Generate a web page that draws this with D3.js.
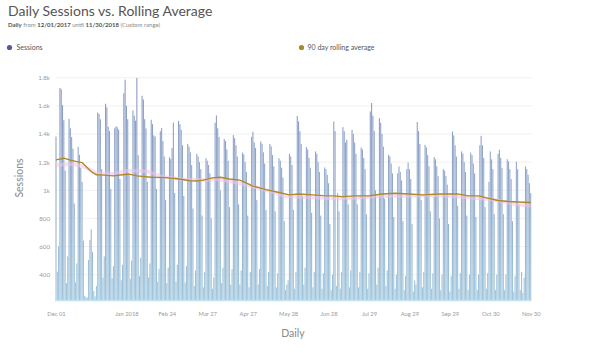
<!DOCTYPE html>
<html><head><meta charset="utf-8">
<script src="https://cdn.jsdelivr.net/npm/d3@7"></script>
<style>
html,body{margin:0;padding:0;background:#fff;}
svg{display:block;font-family:Lato, "Open Sans", sans-serif;}
</style></head>
<body>
<svg id="chart" width="600" height="353"></svg>
<script>
// ---- data ----
const startDate = "2017-12-01";
// daily sessions, 12/01/2017 .. 11/30/2018 (Fri Dec 1 first, then weeks Mon..Sun)
const sessions = [
 1382,421,600,
 1727,1718,1605,1498,1140,340,530,
 1508,1440,1378,1296,905,345,480,
 1309,1252,1160,1060,642,250,240,
 238,505,648,722,560,285,245,
 320,1553,1542,1505,1150,380,530,
 1615,1590,1452,1420,1010,375,460,
 1440,1455,1448,1430,1080,360,470,
 1690,1786,1600,1505,1120,370,500,
 1567,1530,1495,1798,1250,390,520,
 1672,1645,1505,1440,1060,380,480,
 1501,1470,1390,1382,1010,350,440,
 1420,1442,1350,1240,930,340,450,
 1235,1222,1300,1482,980,350,470,
 1494,1470,1430,1320,960,345,460,
 1330,1310,1270,1180,870,320,430,
 1259,1240,1200,1150,820,310,420,
 1228,1210,1180,1120,800,300,380,
 1480,1532,1440,1380,1000,340,450,
 1364,1350,1290,1210,880,330,440,
 1392,1370,1320,1240,900,330,430,
 1268,1255,1200,1130,820,310,420,
 1380,1416,1340,1300,930,330,440,
 1347,1330,1270,1190,860,320,420,
 1330,1312,1250,1170,850,310,410,
 1228,1210,1160,1090,780,290,330,
 360,1259,1240,1180,860,300,420,
 1529,1490,1420,1330,960,330,450,
 1307,1290,1230,1160,840,310,420,
 1276,1260,1200,1130,820,300,410,
 1162,1150,1110,1050,760,290,400,
 1489,1420,320,980,850,300,420,
 1449,1420,1340,1360,900,310,430,
 1430,1400,1340,1260,900,310,420,
 1304,1290,1230,1150,830,300,410,
 1560,1620,1530,1420,1000,330,450,
 1513,1480,1400,1310,940,320,430,
 1252,1240,1190,1120,810,300,400,
 1120,1169,1130,1070,780,290,390,
 1150,1197,1150,1080,760,280,360,
 330,1485,1420,1330,930,310,420,
 1323,1305,1250,1170,850,300,410,
 1236,1220,1170,1100,800,290,400,
 1150,1140,1100,1040,760,280,390,
 1418,1390,1320,1240,890,300,410,
 1276,1260,1200,1130,820,290,400,
 1268,1250,1190,1120,810,290,400,
 1320,1387,1320,1230,880,300,410,
 1060,1276,1220,1150,830,290,400,
 1260,1288,1230,1160,830,290,400,
 1221,1205,1150,1080,780,280,390,
 1204,1150,900,290,420,270,380,
 1169,1150,1110,1050,980
];
// 90 day rolling average, read at day offsets from start
const avgDays   = [0,6,11,16,20,23,27,31,37,44,51,56,62,73,84,93,103,108,113,120,126,133,141,147,151,161,171,179,186,197,205,212,220,229,240,250,260,271,281,294,301,308,316,324,331,339,347,354,364];
const avgValues = [1216,1228,1214,1204,1197,1169,1133,1110,1108,1102,1110,1115,1102,1093,1090,1082,1068,1066,1072,1088,1093,1080,1072,1048,1030,1005,984,967,974,967,962,960,955,960,960,974,979,974,967,974,974,974,960,960,944,927,920,917,913];
// faint pink companion line
const pinkDays   = [0,12,19,25,32,45,55,70,80,95,110,125,135,150,165,175,190,205,215,230,245,260,275,290,305,320,335,345,355,364];
const pinkValues = [1180,1185,1175,1150,1120,1120,1140,1135,1100,1080,1075,1075,1060,1030,990,960,950,945,940,945,955,960,960,965,955,945,935,915,895,890];
const yTicks = [400,600,800,1000,1200,1400,1600,1800];
const yTickLabels = ["400","600","800","1k","1.2k","1.4k","1.6k","1.8k"];
const xTickDates = ["2017-12-01","2018-01-24","2018-02-24","2018-03-27","2018-04-27","2018-05-28","2018-06-28","2018-07-29","2018-08-29","2018-09-29","2018-10-30","2018-11-30"];
const xTickLabels = ["Dec 01","Jan 2018","Feb 24","Mar 27","Apr 27","May 28","Jun 28","Jul 29","Aug 29","Sep 29","Oct 30","Nov 30"];

// ---- drawing ----
(function () {
const svg = d3.select("#chart");
const parse = d3.utcParse("%Y-%m-%d");
const d0 = parse(startDate);
const dayDate = i => d3.utcDay.offset(d0, i);
const pL = 56, pR = 530.7, pT = 70, pB = 300;
const x = d3.scaleUtc().domain([d0, dayDate(sessions.length - 1)]).range([pL, pR]);
const y = d3.scaleLinear().domain([220, 1855]).range([pB, pT]);
const step = x(dayDate(1)) - x(d0);

// title
svg.append("text").attr("x", 8).attr("y", 16).attr("font-size", 14).attr("fill", "#555").text("Daily Sessions vs. Rolling Average");
const sub = svg.append("text").attr("x", 8).attr("y", 26.5).attr("font-size", 6).attr("fill", "#888");
sub.append("tspan").attr("font-weight", "bold").attr("fill", "#555").text("Daily");
sub.append("tspan").text(" from ");
sub.append("tspan").attr("font-weight", "bold").attr("fill", "#555").text("12/01/2017");
sub.append("tspan").text(" until ");
sub.append("tspan").attr("font-weight", "bold").attr("fill", "#555").text("11/30/2018");
sub.append("tspan").text(" (Custom range)");

// legend
svg.append("circle").attr("cx", 9.5).attr("cy", 47.5).attr("r", 2.6).attr("fill", "#4d5c9e");
svg.append("text").attr("x", 16.5).attr("y", 50).attr("font-size", 7).attr("fill", "#555").text("Sessions");
svg.append("circle").attr("cx", 301.5).attr("cy", 47.5).attr("r", 2.6).attr("fill", "#a68a22");
svg.append("text").attr("x", 307.5).attr("y", 50).attr("font-size", 7).attr("fill", "#555").text("90 day rolling average");

// grid
svg.append("g").selectAll("line").data(yTicks).join("line")
  .attr("x1", pL).attr("x2", pR + 1)
  .attr("y1", d => y(d)).attr("y2", d => y(d))
  .attr("stroke", "#ececec").attr("stroke-width", 0.8);

// y axis labels
const yAxis = d3.axisLeft(y).tickValues(yTicks).tickFormat((d, i) => yTickLabels[i]).tickSize(0).tickPadding(0);
const gy = svg.append("g").attr("transform", `translate(${pL - 6},0)`).call(yAxis);
gy.select(".domain").remove();
gy.selectAll("text").attr("font-size", 6.2).attr("fill", "#9a9a9a").attr("font-family", "Lato, sans-serif");

// gradient for bars
const defs = svg.append("defs");
const grad = defs.append("linearGradient").attr("id", "barGrad").attr("gradientUnits", "userSpaceOnUse")
  .attr("x1", 0).attr("x2", 0).attr("y1", pT).attr("y2", pB);
grad.append("stop").attr("offset", "0%").attr("stop-color", "#8795c4");
grad.append("stop").attr("offset", "55%").attr("stop-color", "#92abcc");
grad.append("stop").attr("offset", "100%").attr("stop-color", "#9fc6dc");

// bars
const bw = step * 0.82;
svg.append("g").selectAll("rect").data(sessions).join("rect")
  .attr("x", (d, i) => x(dayDate(i)) - bw / 2)
  .attr("width", bw)
  .attr("y", d => y(Math.max(d, 220)))
  .attr("height", d => pB - y(Math.max(d, 220)))
  .attr("fill", "url(#barGrad)");

// baseline
svg.append("line").attr("x1", pL - 1).attr("x2", pR + 1).attr("y1", pB + 0.5).attr("y2", pB + 0.5)
  .attr("stroke", "#c2e4f2").attr("stroke-width", 1.5);

// pink line
const line = d3.line().x(d => x(dayDate(d[0]))).y(d => y(d[1]));
svg.append("path").datum(pinkDays.map((d, i) => [d, pinkValues[i]]))
  .attr("d", line).attr("fill", "none").attr("stroke", "#f2c2ea").attr("stroke-opacity", 0.55).attr("stroke-width", 3.5);

// rolling average
svg.append("path").datum(avgDays.map((d, i) => [d, avgValues[i]]))
  .attr("d", line).attr("fill", "none").attr("stroke", "#ad8a26").attr("stroke-width", 1.4).attr("stroke-linejoin", "round");

// x axis
const xAxis = d3.axisBottom(x).tickValues(xTickDates.map(parse)).tickFormat((d, i) => xTickLabels[i]).tickSize(0).tickPadding(0);
const gx = svg.append("g").attr("transform", `translate(0,${pB + 12})`).call(xAxis);
gx.select(".domain").remove();
gx.selectAll("text").attr("font-size", 5.8).attr("fill", "#9a9a9a").attr("font-family", "Lato, sans-serif");

// axis titles
svg.append("text").attr("x", 293).attr("y", 337).attr("text-anchor", "middle").attr("font-size", 10.5).attr("fill", "#8a8a8a").text("Daily");
svg.append("text").attr("transform", "translate(23,178) rotate(-90)").attr("text-anchor", "middle").attr("font-size", 10.5).attr("fill", "#8a8a8a").text("Sessions");
})();
</script>
</body></html>
